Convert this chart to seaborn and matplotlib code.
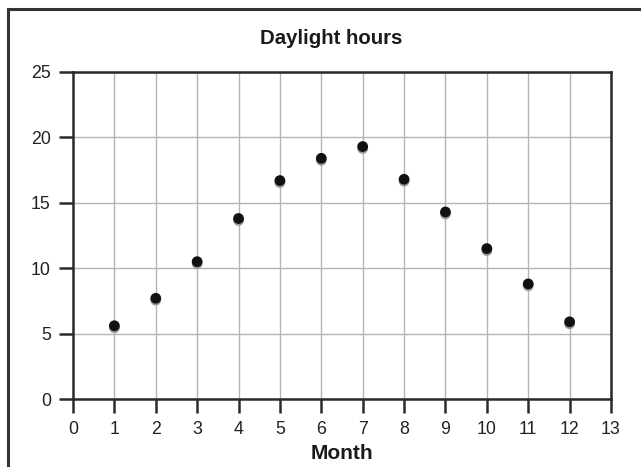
import seaborn as sns
import matplotlib.pyplot as plt
import matplotlib.transforms as mtransforms
from matplotlib.patches import Rectangle
import pandas as pd

months = [1, 2, 3, 4, 5, 6, 7, 8, 9, 10, 11, 12]
hours = [5.6, 7.7, 10.5, 13.8, 16.7, 18.4, 19.3, 16.8, 14.3, 11.5, 8.8, 5.9]
x_ticks = list(range(0, 14))
y_ticks = [0, 5, 10, 15, 20, 25]

df = pd.DataFrame({"Month": months, "Hours": hours})

sns.set_style("white")
plt.rcParams['font.family'] = ['Liberation Sans', 'DejaVu Sans']

fig = plt.figure(figsize=(6.41, 4.67), dpi=100)
ax = fig.add_axes([73 / 641, 1 - 399 / 467, (611 - 73) / 641, (399 - 72) / 467])

# outer frame, cropped at right and bottom like the original
fig.patches.append(Rectangle((8 / 641, -0.1), 1.0, 1 - 9 / 467 + 0.1,
                             transform=fig.transFigure, fill=False,
                             edgecolor="#333333", linewidth=2.2))

# grey shadow under each point
shadow = sns.scatterplot(data=df, x="Month", y="Hours", ax=ax, color="#9a9a9a",
                         s=60, edgecolor="none", zorder=3)
shadow.collections[0].set_offset_transform(
    ax.transData + mtransforms.ScaledTranslation(0, -2 / 100, fig.dpi_scale_trans))
sns.scatterplot(data=df, x="Month", y="Hours", ax=ax, color="#111111",
                s=60, edgecolor="none", zorder=4)

ax.set_xlim(0, 13)
ax.set_ylim(0, 25)
ax.set_xticks(x_ticks)
ax.set_yticks(y_ticks)
ax.grid(True, color="#b4b4b4", linewidth=1.0)
ax.set_axisbelow(True)
for sp in ax.spines.values():
    sp.set_color("#2a2a2a")
    sp.set_linewidth(1.8)
ax.tick_params(axis="both", direction="out", length=10, width=1.8, color="#2a2a2a",
               labelsize=12.8, labelcolor="#222222", pad=6, left=True, bottom=True)

ax.set_xlabel("Month", fontsize=15, fontweight="bold", color="#1a1a1a", labelpad=4)
ax.set_ylabel("")
fig.text(331 / 641, 1 - 38 / 467, "Daylight hours", ha="center", va="center",
         fontsize=14.7, fontweight="bold", color="#1a1a1a")

fig.savefig("out.png", dpi=100)
